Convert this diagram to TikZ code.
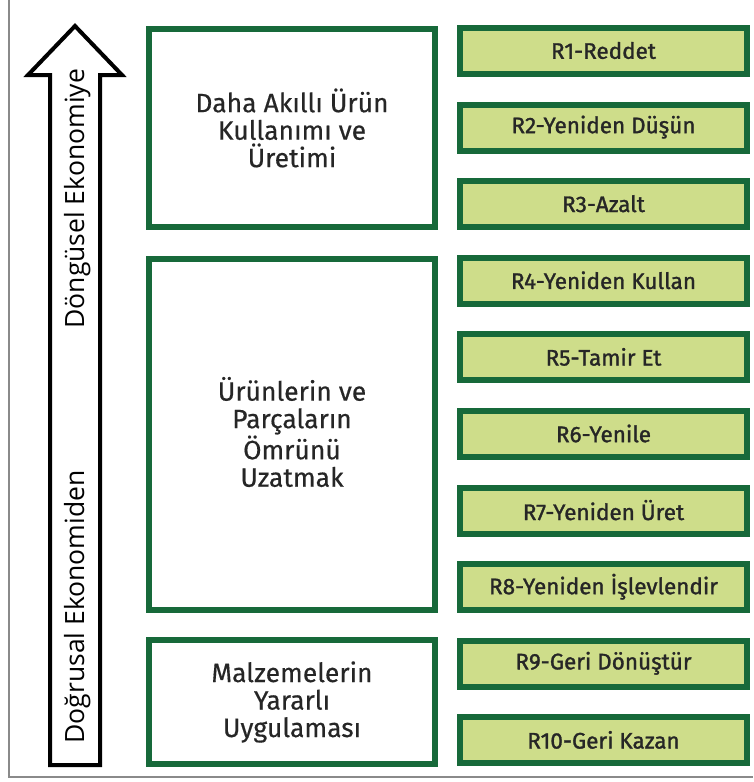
\documentclass[tikz,border=0pt]{standalone}
\usepackage{fontspec}
\setmainfont{Fira Sans}[FakeBold=0.4]
\newfontfamily\rfont{Fira Sans}[FakeBold=1.3]
\newfontfamily\arrowfont{Open Sans}
\definecolor{dkgreen}{HTML}{17693A}
\definecolor{ltgreen}{HTML}{CEDD8A}
\definecolor{framegray}{HTML}{8A8A8A}
\begin{document}
\begin{tikzpicture}[x=1pt,y=-1pt,
  bigbox/.style={draw=dkgreen, line width=6pt, fill=white},
  rbox/.style={draw=dkgreen, line width=6pt, fill=ltgreen},
  bigtext/.style={align=center, font=\fontsize{26.5}{27.5}\selectfont, text=black!85},
  rtext/.style={font=\rfont\fontsize{22.5}{24}\selectfont, text=black!85},
  arrowtext/.style={rotate=90, anchor=base west, font=\arrowfont\fontsize{26.5}{28}\selectfont}]
\useasboundingbox (0,0) rectangle (753,782);
% frame
\draw[framegray, line width=1.2pt] (9,0) -- (9,777) -- (753,777);
% arrow
\draw[black, line width=4pt, line join=miter, fill=white]
  (50,765) -- (50,75) -- (28,75) -- (75,26) -- (122,75) -- (100,75) -- (100,765) -- cycle;
\node[arrowtext] (t1) at (84,747) {Doğrusal Ekonomiden};
\node[arrowtext] (t2) at (84,332) {Döngüsel Ekonomiye};
% left boxes
\draw[bigbox] (149,29) rectangle (435,227);
\node[bigtext] (b1) at (292,128) {Daha Akıllı Ürün\\Kullanımı ve\\Üretimi};
\draw[bigbox] (149,259) rectangle (435,610);
\node[bigtext] (b2) at (292,432) {Ürünlerin ve\\Parçaların\\Ömrünü\\Uzatmak};
\draw[bigbox] (149,640) rectangle (435,764);
\node[bigtext] (b3) at (292,702) {Malzemelerin\\Yararlı\\Uygulaması};
% right boxes
\foreach \i/\lab in {1/R1-Reddet,2/R2-Yeniden Düşün,3/R3-Azalt,4/R4-Yeniden Kullan,5/R5-Tamir Et,6/R6-Yenile,7/R7-Yeniden Üret,8/R8-Yeniden İşlevlendir,9/R9-Geri Dönüştür,10/R10-Geri Kazan}{
  \pgfmathsetmacro{\top}{25+76.6*(\i-1)}
  \draw[rbox] (460,\top+3) rectangle (747,\top+49);
  \node[rtext] (r\i) at (603.5,\top+25.5) {\lab};
}
\end{tikzpicture}
\end{document}
